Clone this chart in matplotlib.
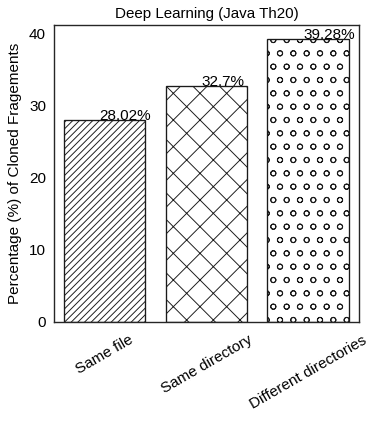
import matplotlib
matplotlib.use('Agg')
import matplotlib.pyplot as plt

categories = ['Same file', 'Same directory', 'Different directories']
values = [28.02, 32.7, 39.28]
labels = ['28.02%', '32.7%', '39.28%']
hatches = ['////', 'x', 'o']

plt.rcParams['font.family'] = ['Liberation Sans', 'DejaVu Sans']
plt.rcParams['font.size'] = 13.75
plt.rcParams['hatch.linewidth'] = 0.85
plt.rcParams['hatch.color'] = '#262626'

fig = plt.figure(figsize=(374/80, 428/80), dpi=80)
ax = fig.add_axes([0.144, 0.2477, 0.816, 0.694])

x = range(len(categories))
bars = ax.bar(x, values, width=0.8, color='white', edgecolor='#1a1a1a', linewidth=1.2)
for b, h in zip(bars, hatches):
    b.set_hatch(h)

for i, (v, lab) in enumerate(zip(values, labels)):
    ax.text(i - 0.05, v, lab, ha='left', va='baseline', fontsize=13.75)

ax.set_xticks(list(x))
ax.set_xticklabels(categories, rotation=30, ha='center')
ax.set_yticks([0, 10, 20, 30, 40])
ax.set_xlim(-0.5, 2.5)
ax.set_ylim(0, max(values) * 1.05)
ax.tick_params(axis='y', length=0, pad=7, labelsize=13.75)
ax.tick_params(axis='x', length=0, pad=10, labelsize=13.75)
for s in ax.spines.values():
    s.set_color('#262626')
    s.set_linewidth(1.25)
ax.set_ylabel('Percentage (%) of Cloned Fragements', labelpad=6, fontsize=13.75)
ax.set_title('Deep Learning (Java Th20)', pad=6, fontsize=13.6)

fig.savefig('out.png', dpi=80)
